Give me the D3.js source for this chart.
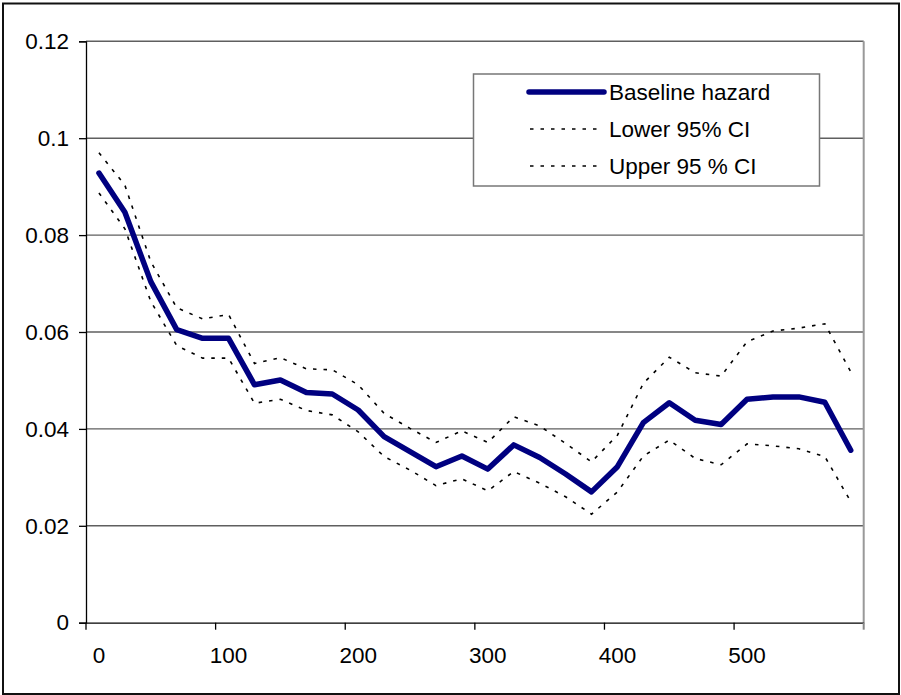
<!DOCTYPE html>
<html>
<head>
<meta charset="utf-8">
<script src="https://cdn.jsdelivr.net/npm/d3@7"></script>
<style>
  html, body { margin: 0; padding: 0; background: #fff; }
  svg { display: block; }
  text { font-family: Arial, "Liberation Sans", sans-serif; }
</style>
</head>
<body>
<script>
// ---- data ----
const categories = [0,20,40,60,80,100,120,140,160,180,200,220,240,260,280,300,320,340,360,380,400,420,440,460,480,500,520,540,560,580];
const baseline = [0.0928,0.0847,0.0704,0.0605,0.0587,0.0587,0.0491,0.0501,0.0475,0.0472,0.0439,0.0384,0.0353,0.0322,0.0344,0.0317,0.0367,0.0341,0.0307,0.0270,0.0322,0.0413,0.0454,0.0418,0.0409,0.0461,0.0466,0.0466,0.0455,0.0356];
const lower95 = [0.0887,0.0813,0.0663,0.0572,0.0546,0.0546,0.0453,0.0461,0.0438,0.0429,0.0394,0.0343,0.0315,0.0283,0.0297,0.0272,0.0312,0.0288,0.0260,0.0224,0.0270,0.0344,0.0377,0.0339,0.0326,0.0369,0.0365,0.0359,0.0343,0.0250];
const upper95 = [0.0970,0.0903,0.0745,0.0650,0.0627,0.0636,0.0535,0.0547,0.0524,0.0522,0.0491,0.0432,0.0401,0.0372,0.0396,0.0372,0.0425,0.0406,0.0370,0.0332,0.0387,0.0494,0.0548,0.0516,0.0509,0.0580,0.0602,0.0608,0.0617,0.0518];
const yTicks = [0,0.02,0.04,0.06,0.08,0.1,0.12];
const xLabels = [0,100,200,300,400,500];
const legendLabels = ["Baseline hazard","Lower 95% CI","Upper 95 % CI"];

// ---- layout ----
const W = 901, H = 695;
const pLeft = 86, pRight = 863.7, pTop = 41.3, pBottom = 622.7;
const FS = 22.5;

const svg = d3.select("body").append("svg").attr("width", W).attr("height", H);
svg.append("rect").attr("width", W).attr("height", H).attr("fill", "#fff");
svg.append("rect").attr("x", 3).attr("y", 3.5).attr("width", 896).attr("height", 690.5)
  .attr("fill", "none").attr("stroke", "#111").attr("stroke-width", 2);

const x = d3.scaleBand().domain(categories).range([pLeft, pRight]).padding(0);
const xc = c => x(c) + x.bandwidth() / 2;
const y = d3.scaleLinear().domain([0, 0.12]).range([pBottom, pTop]);

// gridlines
svg.append("g").selectAll("line").data(yTicks.filter(d => d > 0)).join("line")
  .attr("x1", pLeft).attr("x2", pRight).attr("y1", d => y(d)).attr("y2", d => y(d))
  .attr("stroke", "#5f5f5f").attr("stroke-width", 1.4);

// plot area right border
svg.append("line").attr("x1", pRight).attr("x2", pRight).attr("y1", pTop).attr("y2", pBottom)
  .attr("stroke", "#999").attr("stroke-width", 2);

// y axis
const yAxis = d3.axisLeft(y).tickValues(yTicks).tickSize(7).tickPadding(10)
  .tickFormat(d => String(+d.toFixed(2)));
const gy = svg.append("g").attr("transform", `translate(${pLeft},0)`).call(yAxis);
gy.select(".domain").attr("stroke", "#000").attr("stroke-width", 1.3);
gy.selectAll(".tick line").attr("stroke", "#000").attr("stroke-width", 1.3);
gy.selectAll(".tick text").attr("font-size", FS).attr("fill", "#000")
  .attr("font-family", "Arial, 'Liberation Sans', sans-serif");

// x axis (category axis: labels at category centers, ticks between groups)
const xAxis = d3.axisBottom(x).tickValues(xLabels).tickSize(0).tickPadding(24.4);
const gx = svg.append("g").attr("transform", `translate(0,${pBottom})`).call(xAxis);
gx.select(".domain").attr("stroke", "#000").attr("stroke-width", 1.3);
gx.selectAll(".tick text").attr("font-size", FS).attr("fill", "#000")
  .attr("font-family", "Arial, 'Liberation Sans', sans-serif");
const tickCats = categories.filter(c => c % 100 === 0);
svg.append("g").selectAll("line").data(tickCats).join("line")
  .attr("x1", d => x(d)).attr("x2", d => x(d)).attr("y1", pBottom).attr("y2", pBottom + 7)
  .attr("stroke", "#000").attr("stroke-width", 1.3);
svg.append("line").attr("x1", pRight).attr("x2", pRight).attr("y1", pBottom).attr("y2", pBottom + 7)
  .attr("stroke", "#888").attr("stroke-width", 2);

// series
const line = d3.line().x((d, i) => xc(categories[i])).y(d => y(d));
svg.append("path").datum(lower95).attr("d", line).attr("fill", "none")
  .attr("stroke", "#000").attr("stroke-width", 1.6).attr("stroke-dasharray", "3.5,7");
svg.append("path").datum(upper95).attr("d", line).attr("fill", "none")
  .attr("stroke", "#000").attr("stroke-width", 1.6).attr("stroke-dasharray", "3.5,7");
svg.append("path").datum(baseline).attr("d", line).attr("fill", "none")
  .attr("stroke", "#000080").attr("stroke-width", 5.5)
  .attr("stroke-linejoin", "round").attr("stroke-linecap", "round");

// legend
const lg = svg.append("g");
lg.append("rect").attr("x", 473.5).attr("y", 74).attr("width", 346).attr("height", 112)
  .attr("fill", "#fff").attr("stroke", "#777").attr("stroke-width", 1.5);
const rowsY = [92, 129, 166];
lg.append("line").attr("x1", 529).attr("x2", 604).attr("y1", rowsY[0]).attr("y2", rowsY[0])
  .attr("stroke", "#000080").attr("stroke-width", 5.5).attr("stroke-linecap", "round");
[1, 2].forEach(i => {
  lg.append("line").attr("x1", 530).attr("x2", 598).attr("y1", rowsY[i]).attr("y2", rowsY[i])
    .attr("stroke", "#000").attr("stroke-width", 1.6).attr("stroke-dasharray", "3.5,7");
});
lg.selectAll("text.lbl").data(legendLabels).join("text").attr("class", "lbl")
  .attr("x", 609).attr("y", (d, i) => rowsY[i]).attr("dy", "0.35em")
  .attr("font-size", FS).attr("fill", "#000").text(d => d);
</script>
</body>
</html>
